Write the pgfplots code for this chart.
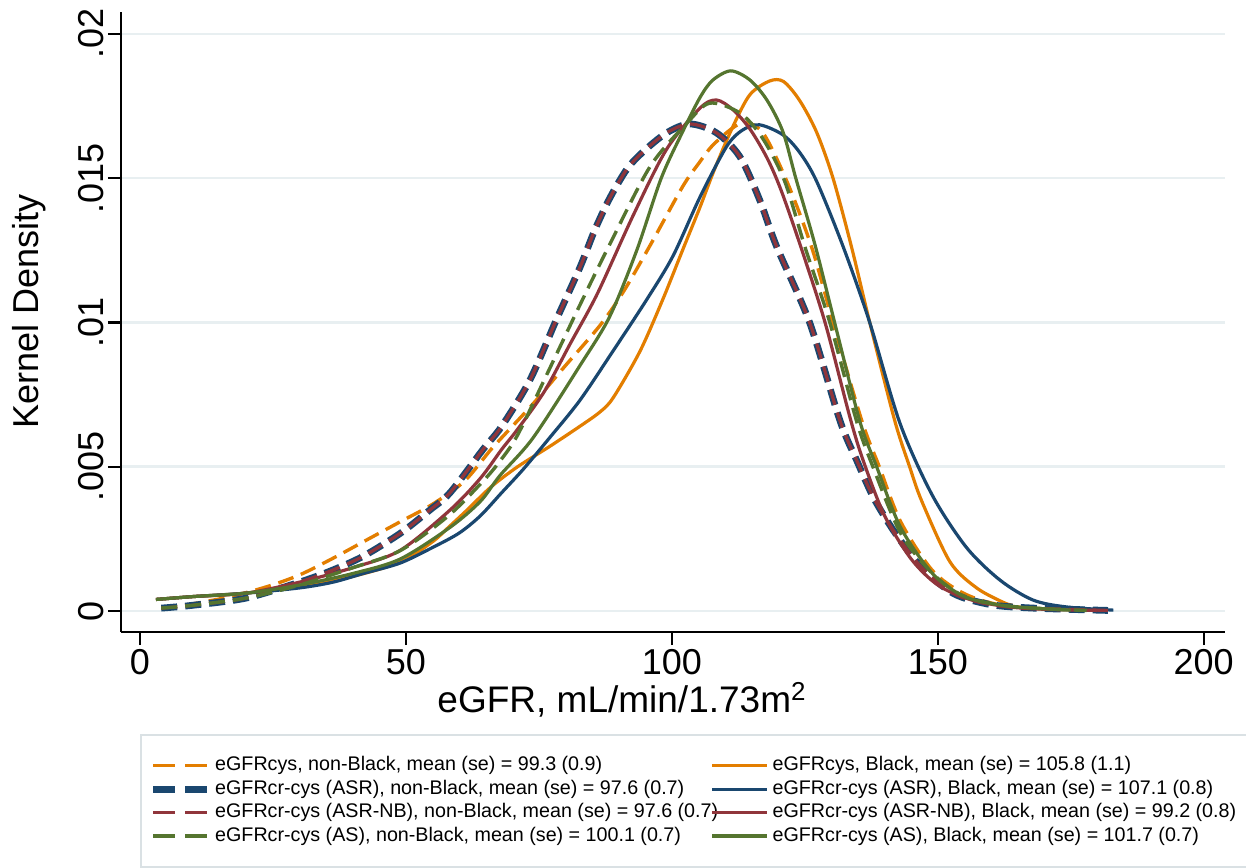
\documentclass[border=0pt]{standalone}
\usepackage{fontspec}
\setmainfont{Liberation Sans}
\usepackage{pgfplots}
\usepackage{pgfplotstable}
\pgfplotsset{compat=1.18}

\definecolor{snavy}{RGB}{26,71,111}
\definecolor{smaroon}{RGB}{144,53,59}
\definecolor{sgreen}{RGB}{85,117,47}
\definecolor{sorange}{RGB}{227,126,0}
\definecolor{gridc}{RGB}{232,239,241}
\definecolor{legc}{RGB}{218,225,228}

% eGFRcys, non-Black
\pgfplotstableread{
x y
4 0.0001
10 0.00025
17 0.0005
24 0.00085
30 0.00125
36 0.0018
43 0.0025
49 0.0031
55 0.0037
61 0.0045
66 0.0056
70 0.0064
74 0.0072
79.5 0.0084
86.5 0.0099
91 0.0111
96 0.0127
102 0.0147
105 0.0155
108 0.0162
113 0.0169
117 0.0166
121.6 0.0149
126.3 0.0126
130.3 0.0100
135.7 0.0066
139 0.0050
143 0.0031
149 0.0014
155 0.0006
162 0.0002
172 0.00005
}\cysNB
% eGFRcys, Black
\pgfplotstableread{
x y
3 0.0004
10 0.0005
20 0.00062
30 0.00085
40 0.0012
49 0.0017
55 0.0024
58 0.0029
61.5 0.0035
66 0.0043
71 0.0050
77 0.0057
82.7 0.0064
86.5 0.0069
89 0.0074
94 0.0090
98.3 0.0108
102 0.0125
105.3 0.0140
108 0.0153
111.5 0.0168
114.7 0.0179
118.4 0.01837
121 0.01835
124 0.0177
127.2 0.0166
130.3 0.0150
133.8 0.0126
137.2 0.0100
141.9 0.0066
144.7 0.0050
147 0.0038
152.3 0.0017
157.3 0.0008
162.3 0.0003
164 0.0002
}\cysB
% eGFRcr-cys (ASR), non-Black  (= ASR-NB, non-Black)
\pgfplotstableread{
x y
4 0.0001
10 0.0002
20 0.00045
30 0.0010
36 0.0014
42 0.0019
49 0.0027
54.5 0.0035
58.3 0.0041
64.5 0.0056
68 0.0064
73.3 0.0080
78.3 0.0101
82.7 0.0119
85.5 0.0132
88.3 0.0143
91.5 0.0153
94.5 0.0159
99 0.01657
103.4 0.01688
108.4 0.01657
112.8 0.01574
116.5 0.01425
119.7 0.01263
125.9 0.0100
131.6 0.0066
134.8 0.0052
138 0.0039
142 0.0027
147 0.0015
153 0.0006
160 0.00022
168 0.0001
182 0.00002
}\asrNB
% eGFRcr-cys (ASR), Black
\pgfplotstableread{
x y
3 0.0004
10 0.0005
20 0.00062
30 0.0008
36.3 0.0010
42 0.0013
48.9 0.00166
55 0.0022
60 0.0027
64 0.0033
68 0.0041
72 0.0049
77 0.0060
82.7 0.0073
88.9 0.0090
95.3 0.0108
100.2 0.0123
105.3 0.01435
110.3 0.0161
113.3 0.01667
116.5 0.01685
120.9 0.0165
124 0.0159
127.2 0.0149
132.2 0.01263
137.2 0.0100
142.9 0.0065
149 0.0040
155.4 0.0022
161.7 0.00107
167.9 0.00038
174.2 0.00014
183 0.00003
}\asrB
% eGFRcr-cys (ASR-NB), Black
\pgfplotstableread{
x y
3 0.0004
10 0.0005
20 0.00062
30 0.0010
40 0.0015
48.9 0.0021
58.3 0.0035
64 0.0046
68 0.0056
71 0.0063
76 0.0076
81 0.0093
86 0.0110
92.7 0.0137
99 0.0160
105.3 0.01743
108.4 0.01771
111.5 0.01737
114.7 0.01670
117.9 0.0157
120.5 0.0146
124.1 0.0127
128.8 0.0100
133.5 0.0067
136 0.0052
140 0.0033
145 0.0018
150 0.0009
156 0.0004
163 0.00015
170 0.00006
180 0.00002
}\asrnbB
% eGFRcr-cys (AS), non-Black
\pgfplotstableread{
x y
4 0.0001
10 0.0002
20 0.00045
30 0.0009
40 0.0015
49 0.0021
58 0.0033
64.5 0.0045
67.7 0.0052
71 0.0061
76.5 0.0082
82.7 0.0106
88.3 0.0127
95.9 0.0154
102.8 0.0169
107.1 0.0176
112.8 0.01726
117 0.0164
121.2 0.0149
125 0.01263
129.7 0.0100
134.7 0.0066
137.8 0.0050
143 0.0027
149 0.0013
155 0.0005
162 0.0002
170 0.00008
178 0.00002
}\asNB
% eGFRcr-cys (AS), Black
\pgfplotstableread{
x y
3 0.0004
10 0.0005
20 0.00062
30 0.0009
40 0.0013
48.9 0.0018
58.3 0.0029
64 0.0038
67.7 0.0047
73.9 0.0060
82.7 0.0085
88.3 0.0102
93.4 0.0125
98 0.0150
102 0.0166
105.3 0.0178
107.7 0.0184
111.1 0.01872
114.7 0.0184
117.9 0.0177
120.9 0.0166
123.3 0.0150
126.9 0.0127
130.6 0.0100
135.3 0.0066
138.5 0.0050
143 0.0029
149 0.0013
155 0.0005
162 0.0002
168 0.0001
175 0.00003
}\asB

\begin{document}
\begin{tikzpicture}
\begin{axis}[
  name=ax,
  scale only axis,
  width=552pt, height=310pt,
  xmin=-3.57, xmax=204,
  ymin=-0.000728, ymax=0.02076,
  axis x line*=bottom, axis y line*=left,
  axis line style={-, black, line width=1.1pt},
  tick align=outside,
  major tick length=6.5pt,
  tick style={black, line width=1.1pt},
  xtick={0,50,100,150,200},
  xticklabels={0,50,100,150,200},
  ytick={0,0.005,0.01,0.015,0.02},
  yticklabels={0,.005,.01,.015,.02},
  scaled y ticks=false,
  ticklabel style={font=\fontsize{18}{21}\selectfont},
  yticklabel style={rotate=90, anchor=south, inner sep=2pt},
  xticklabel style={inner sep=2pt},
  ymajorgrids,
  major grid style={gridc, line width=1.3pt},
  xlabel={eGFR, mL/min/1.73m\textsuperscript{2}},
  xlabel style={font=\fontsize{18.5}{22}\selectfont, at={(axis description cs:0.4538,-0.1306)}, anchor=base, inner sep=0pt},
  ylabel={Kernel Density},
  ylabel style={font=\fontsize{18}{21}\selectfont, at={(axis description cs:-0.0743,0.5177)}, anchor=base, inner sep=0pt},
  legend columns=2,
  legend cell align=left,
  legend image code/.code={\draw[#1] (0pt,0pt) -- (27.5pt,0pt);},
  legend style={
    at={(axis description cs:0.0172,-0.1646)}, anchor=north west,
    draw=legc, line width=0.8pt,
    font=\fontsize{9.85}{12}\selectfont,
    inner xsep=4.5pt, inner ysep=9.6pt,
    nodes={text height=7.1pt, text depth=2pt, inner ysep=1.3pt, inner xsep=1.8pt},
    /tikz/every even column/.append style={column sep=-5.5pt},
  },
  every axis plot/.append style={smooth},
]
\addplot[sorange, line width=1.7pt, dash pattern=on 8pt off 4pt,
  legend image post style={dash pattern=on 11pt off 5pt}] table[x=x,y=y] {\cysNB};
\addlegendentry{eGFRcys, non-Black, mean (se) = 99.3 (0.9)}
\addplot[sorange, line width=1.6pt] table[x=x,y=y] {\cysB};
\addlegendentry{eGFRcys, Black, mean (se) = 105.8 (1.1)}
\addplot[snavy, line width=3.4pt, dash pattern=on 8pt off 4pt,
  legend image post style={dash pattern=on 11pt off 5pt}] table[x=x,y=y] {\asrNB};
\addlegendentry{eGFRcr-cys (ASR), non-Black, mean (se) = 97.6 (0.7)}
\addplot[snavy, line width=1.6pt] table[x=x,y=y] {\asrB};
\addlegendentry{eGFRcr-cys (ASR), Black, mean (se) = 107.1 (0.8)}
\addplot[smaroon, line width=1.6pt, dash pattern=on 8pt off 4pt,
  legend image post style={dash pattern=on 11pt off 5pt}] table[x=x,y=y] {\asrNB};
\addlegendentry{eGFRcr-cys (ASR-NB), non-Black, mean (se) = 97.6 (0.7)}
\addplot[smaroon, line width=1.6pt] table[x=x,y=y] {\asrnbB};
\addlegendentry{eGFRcr-cys (ASR-NB), Black, mean (se) = 99.2 (0.8)}
\addplot[sgreen, line width=1.7pt, dash pattern=on 8pt off 4pt,
  legend image post style={dash pattern=on 11pt off 5pt}] table[x=x,y=y] {\asNB};
\addlegendentry{eGFRcr-cys (AS), non-Black, mean (se) = 100.1 (0.7)}
\addplot[sgreen, line width=1.6pt] table[x=x,y=y] {\asB};
\addlegendentry{eGFRcr-cys (AS), Black, mean (se) = 101.7 (0.7)}
\end{axis}
\pgfresetboundingbox
\path[use as bounding box] ([shift={(-60.5pt,-117.5pt)}]ax.south west) rectangle ([shift={(562.5pt,6pt)}]ax.north west);
\end{tikzpicture}
\end{document}
